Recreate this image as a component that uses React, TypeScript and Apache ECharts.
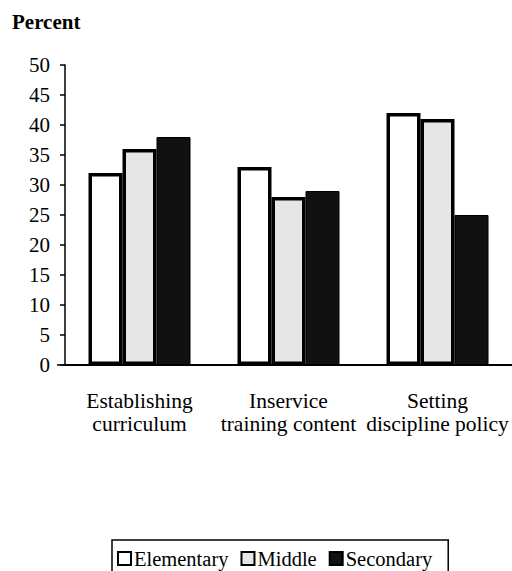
import React, { useEffect, useRef } from "react";
import * as echarts from "echarts";

const categories = ["Establishing\ncurriculum", "Inservice\ntraining content", "Setting\ndiscipline policy"];
const seriesNames = ["Elementary", "Middle", "Secondary"];
const elementary = [32, 33, 42];
const middle = [36, 28, 41];
const secondary = [38, 29, 25];
const yTicks = { min: 0, max: 50, interval: 5 };

const FONT = "Times New Roman, Liberation Serif, DejaVu Serif, serif";

export default function App() {
  const ref = useRef<HTMLDivElement>(null);
  useEffect(() => {
    if (!ref.current) return;
    const chart = echarts.init(ref.current, null, { renderer: "svg" });
    const barBase = { type: "bar" as const, barWidth: 34, barGap: "0%" };
    chart.setOption({
      animation: false,
      backgroundColor: "#fff",
      textStyle: { fontFamily: FONT },
      title: {
        text: "Percent",
        left: 12,
        top: 11,
        padding: 0,
        textStyle: { fontFamily: FONT, fontSize: 21, fontWeight: "bold", color: "#000" },
      },
      grid: { left: 65, top: 65, width: 447, height: 300, containLabel: false },
      legend: {
        data: seriesNames.map((n) => ({ name: n, icon: "rect" })),
        left: 112,
        top: 540,
        orient: "horizontal",
        itemWidth: 13,
        itemHeight: 13,
        itemGap: 12,
        padding: [8, 16, 12, 5],
        borderColor: "#000",
        borderWidth: 1.5,
        borderRadius: 0,
        textStyle: { fontFamily: FONT, fontSize: 20.5, color: "#000", padding: [0, 0, 0, -2] },
      },
      xAxis: {
        type: "category",
        data: categories,
        axisLine: { show: true, lineStyle: { color: "#000", width: 2 } },
        axisTick: { show: false },
        axisLabel: {
          interval: 0,
          margin: 24,
          fontFamily: FONT,
          fontSize: 21.5,
          lineHeight: 23,
          color: "#000",
        },
      },
      yAxis: {
        type: "value",
        min: yTicks.min,
        max: yTicks.max,
        interval: yTicks.interval,
        splitLine: { show: false },
        axisLine: { show: true, lineStyle: { color: "#000", width: 1.5 } },
        axisTick: { show: true, inside: false, length: 5, lineStyle: { color: "#000", width: 1.5 } },
        axisLabel: { margin: 15, fontFamily: FONT, fontSize: 21, color: "#000" },
      },
      graphic: [
        { type: "line", shape: { x1: 57, y1: 365, x2: 66, y2: 365 }, style: { stroke: "#000", lineWidth: 1.5 } },
      ],
      series: [
        {
          ...barBase,
          name: seriesNames[0],
          data: elementary,
          itemStyle: { color: "#ffffff", borderColor: "#000", borderWidth: 3.5 },
        },
        {
          ...barBase,
          name: seriesNames[1],
          data: middle,
          itemStyle: { color: "#e6e6e6", borderColor: "#000", borderWidth: 3.5 },
        },
        {
          ...barBase,
          name: seriesNames[2],
          data: secondary,
          itemStyle: { color: "#111111", borderColor: "#000", borderWidth: 1 },
        },
      ],
    });
    return () => chart.dispose();
  }, []);
  return (
    <div
      ref={ref}
      style={{ position: "fixed", left: 0, top: 0, width: 512, height: 571, background: "#fff" }}
    />
  );
}
